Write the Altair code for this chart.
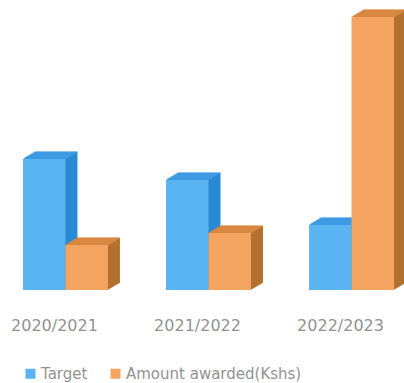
import altair as alt
import pandas as pd

years = ["2020/2021", "2021/2022", "2022/2023"]
series_names = ["Target", "Amount awarded(Kshs)"]
target = [131, 110, 65]
awarded = [45, 57, 273]

rows = []
for y, t, a in zip(years, target, awarded):
    rows.append({"year": y, "series": series_names[0], "value": t})
    rows.append({"year": y, "series": series_names[1], "value": a})
df = pd.DataFrame(rows)

front_colors = ["#5ab4f2", "#f4a460"]
cap_colors = ["#3f9ce6", "#dc8c45"]
side_colors = ["#2b8ad6", "#b3712f"]

W, H = 371, 280
DX, DY, N = 12, 7, 14
BW = 42.5


def x_enc(shift, show_axis):
    axis = (alt.Axis(domain=False, ticks=False, labelAngle=0,
                     labelColor="#929292", labelFontSize=16,
                     labelFont="DejaVu Sans", labelPadding=27,
                     labelOffset=-11)
            if show_axis else None)
    return alt.X("year:N", sort=years, title=None,
                 scale=alt.Scale(paddingInner=0.406, paddingOuter=0,
                                 range=[shift, W + shift]),
                 axis=axis)


xo_enc = alt.XOffset("series:N", sort=series_names,
                     scale=alt.Scale(paddingInner=0, paddingOuter=0))
y_enc = alt.Y("value:Q", scale=alt.Scale(domain=[0, H]), axis=None)

base = alt.Chart(df)
layers = []
for i, s in enumerate(series_names):
    sub = base.transform_filter(alt.datum.series == s)
    for k in range(N, 0, -1):
        layers.append(sub.mark_bar(color=side_colors[i], yOffset=-DY * k / N)
                      .encode(x=x_enc(DX * k / N, False), xOffset=xo_enc, y=y_enc))
    for k in range(N, 0, -1):
        layers.append(sub.mark_tick(color=cap_colors[i], orient="horizontal",
                                    size=BW, thickness=1.6, yOffset=-DY * k / N)
                      .encode(x=x_enc(DX * k / N, False), xOffset=xo_enc, y=y_enc))
    layers.append(sub.mark_bar().encode(
        x=x_enc(0, i == 0), xOffset=xo_enc, y=y_enc,
        color=alt.Color("series:N", sort=series_names,
                        scale=alt.Scale(domain=series_names, range=front_colors),
                        legend=alt.Legend(title=None, orient="none",
                                          direction="horizontal",
                                          legendX=0, legendY=356,
                                          symbolType="square", symbolSize=100,
                                          symbolStrokeWidth=0,
                                          labelFontSize=15, labelColor="#929292",
                                          labelFont="DejaVu Sans", labelLimit=400,
                                          labelOffset=3, columnPadding=20))))

chart = alt.layer(*layers).resolve_scale(x="independent").properties(
    width=W, height=H,
    background="white",
    autosize=alt.AutoSizeParams(type="none"),
    padding={"left": 23, "top": 10, "right": 10, "bottom": 93},
).configure_view(stroke=None)

chart.save("out.html", embed_options={"renderer": "svg", "actions": False})
